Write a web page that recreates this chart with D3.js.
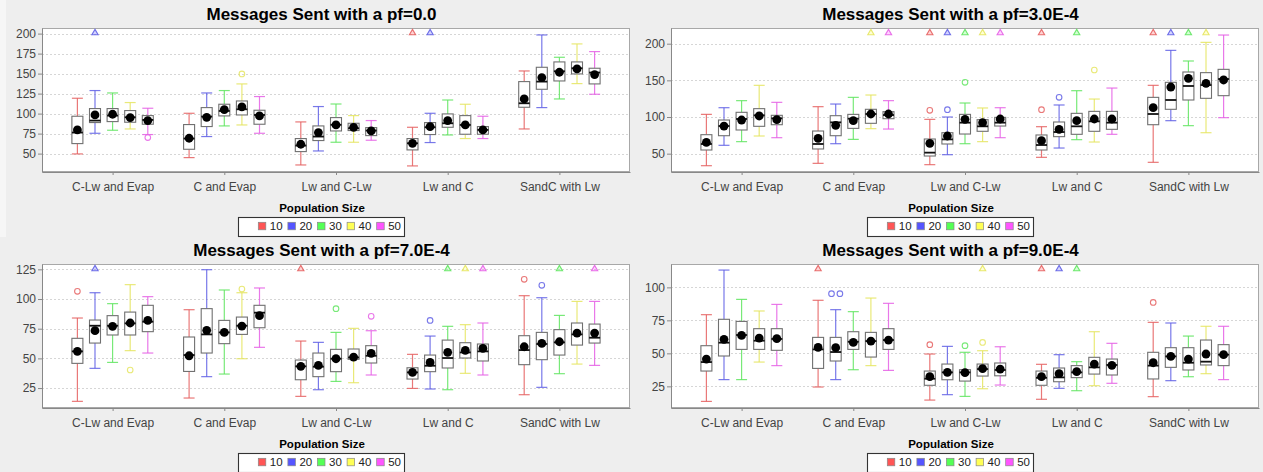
<!DOCTYPE html>
<html>
<head>
<meta charset="utf-8">
<script src="https://cdn.jsdelivr.net/npm/d3@7"></script>
<style>
  html, body { margin: 0; padding: 0; background: #eeeeee; }
  svg { display: block; font-family: "Liberation Sans", Arial, Helvetica, sans-serif; }
</style>
</head>
<body>
<svg id="chart" width="1263" height="472"></svg>
<script>
// ---------- data ----------
const categories = ["C-Lw and Evap", "C and Evap", "Lw and C-Lw", "Lw and C", "SandC with Lw"];
const seriesNames = ["10", "20", "30", "40", "50"];
const seriesColors = ["#ff5555", "#5555ff", "#55ff55", "#ffff55", "#ff55ff"];
const legendTitle = "Population Size";
const panelTitles = [
  "Messages Sent with a pf=0.0",
  "Messages Sent with a pf=3.0E-4",
  "Messages Sent with a pf=7.0E-4",
  "Messages Sent with a pf=9.0E-4"
];
const yDomains = [[27, 207], [25, 221.4], [8.2, 129.5], [8.6, 117.7]];
const yTicks = [
  [50, 75, 100, 125, 150, 175, 200],
  [50, 100, 150, 200],
  [25, 50, 75, 100, 125],
  [25, 50, 75, 100]
];

// box statistics per category, one row per population size:
// [low whisker, Q1, median, Q3, high whisker, mean]
const boxesPf0 = [
  [[49.6, 62.5, 76.3, 96.7, 119.2, 79.6], [75.4, 88.8, 91.3, 106.3, 128.8, 98.3], [79.2, 90, 97.5, 106.3, 125.8, 99.2], [80.8, 89.2, 95.4, 103.8, 113.8, 95], [73.8, 86.7, 92.1, 97.5, 106.7, 91.3]],
  [[45, 55.4, 68.8, 86.3, 100.4, 69.2], [71.3, 83.8, 96.3, 107.5, 125.8, 95.4], [84.6, 97.1, 103.3, 111.7, 128.8, 105], [85.8, 98.3, 105.4, 115.8, 137.1, 108.3], [75.4, 86.7, 98.3, 104.2, 121.3, 97.1]],
  [[35.8, 52.5, 60, 68.8, 89.6, 61.7], [53.3, 66.3, 71.3, 84.6, 108.8, 76.3], [64.2, 78.3, 86, 95, 112, 85.8], [64.2, 78.8, 81.7, 87.9, 97.5, 82.9], [66.7, 72.5, 78.8, 82.5, 91.3, 78.3]],
  [[34.6, 54.6, 62.9, 68.8, 82.9, 62.9], [63.8, 73.8, 82.9, 88.8, 100.4, 83.8], [73.3, 82.9, 87.9, 99.6, 117, 91.3], [68.8, 74.2, 85.8, 97.5, 111.7, 85.8], [68.8, 74.2, 79.6, 83.8, 96.7, 79.6]],
  [[80.8, 107.9, 112.9, 140, 153.3, 118.3], [107.5, 130.4, 140, 157.9, 198.3, 145], [118.3, 140.8, 152.9, 164.6, 170.4, 151.7], [137.5, 149.6, 156.7, 164.6, 187.1, 155.8], [124.2, 137.1, 151.3, 156.7, 177.5, 148.8]]
];
const boxesPf3 = [
  [[33.6, 55, 63.2, 75.9, 103.6, 65.5], [61.4, 74.5, 87.7, 95.9, 112.7, 87.7], [66.4, 82.3, 97.3, 106.4, 122.3, 95.9], [74.1, 87.3, 102.3, 111.4, 143.2, 101.4], [71.8, 89.5, 98.2, 102.3, 120, 96.4]],
  [[36.8, 56.4, 63.2, 80.9, 114.1, 70.9], [63.6, 74.5, 92.7, 101.8, 117.7, 88.6], [69.5, 84.5, 97.7, 103.6, 126.8, 95], [84.1, 91.4, 104.1, 110.5, 130, 104.1], [83.6, 97.7, 102.7, 107.3, 122.3, 104.1]],
  [[35, 46.8, 51.4, 70, 96.8, 64.1], [48.6, 63.2, 69.5, 78.6, 100, 74.1], [63.6, 76.8, 92.3, 103.6, 119.1, 96.8], [66.4, 80.5, 87.3, 96.4, 112.3, 92.3], [71.8, 87.7, 92.3, 99.5, 112.7, 97.3]],
  [[45, 55, 61.8, 75.5, 86.8, 67.7], [57.7, 73.2, 79.5, 93.2, 116.4, 83.2], [69.1, 76.4, 87.3, 105, 135.9, 95], [65.9, 80.5, 94.1, 107.7, 124.5, 97.3], [76.4, 83.2, 92.3, 107.7, 139.5, 97.3]],
  [[38.2, 89.5, 104.1, 126.8, 143.2, 112.7], [95, 110.5, 123.2, 147.3, 190.9, 140.9], [88.2, 123.2, 142.3, 161.4, 176.4, 152.7], [78.6, 125.5, 143.6, 160.5, 201.8, 145.9], [99.1, 129.1, 151.8, 165, 211.8, 150.5]]
];
const boxesPf7 = [
  [[13.8, 45.8, 55.9, 66.9, 84, 55.9], [41.6, 62.9, 77.5, 82.3, 105.3, 73.3], [46.6, 69.7, 77.5, 86, 96.1, 77], [56.5, 69.7, 79.5, 89, 112.1, 79.8], [54.5, 72.5, 80.9, 94.7, 102, 82]],
  [[16.6, 39, 52.8, 68, 91, 52.2], [34.6, 54.5, 70.2, 91.9, 124.7, 73.6], [36.8, 62.4, 71.9, 82, 107.6, 71.9], [49.7, 70.2, 77.5, 84.8, 105.3, 77.2], [59.3, 75.8, 88.5, 94.7, 109.3, 86]],
  [[18, 32, 43.3, 48.6, 64.6, 43.3], [23.6, 34.6, 43, 54.5, 63.5, 44.1], [30.6, 38.8, 49.7, 57.6, 71.9, 49.7], [29.5, 49.2, 50.8, 57.9, 75.3, 51.1], [36, 46.1, 52.2, 60.7, 73.3, 54.2]],
  [[24.7, 32.6, 38.2, 42.1, 53.4, 38.2], [24.2, 38.8, 43.8, 52.8, 68.8, 46.6], [23.6, 41.9, 50.3, 65.4, 77, 55.1], [37.4, 50.3, 55, 63.2, 78.4, 56.7], [36, 47.8, 55.9, 62.1, 79.8, 58.4]],
  [[19.4, 44.7, 57, 69.1, 102.8, 59.8], [25.6, 48.9, 62.1, 71.9, 101.1, 62.6], [37.1, 52.8, 63.5, 74.2, 86.2, 64], [45.2, 61.2, 70.2, 79.8, 98, 71.3], [44.1, 62.9, 67.4, 78.9, 98, 71.3]]
];
const boxesPf9 = [
  [[13.6, 36.6, 43.4, 55.8, 79.3, 45.7], [30.1, 48, 58.1, 75.8, 113.1, 60.6], [30.1, 53, 63.9, 74.2, 90.9, 63.6], [43.4, 53, 59.6, 68.7, 82.1, 61.6], [40.7, 52.3, 60.9, 68.7, 87.1, 61.1]],
  [[24.5, 38.6, 53, 62.1, 90.2, 54.5], [30.1, 44.2, 51, 62.1, 83.1, 54.3], [37.6, 53, 58.8, 66.4, 81.6, 58.3], [40.7, 47.2, 59.3, 65.9, 91.9, 59.3], [37.1, 53, 60.1, 68.7, 87.9, 60.1]],
  [[14.6, 25.8, 30.8, 36.6, 49.5, 32.3], [18.7, 30, 35.6, 41.9, 55.3, 35.6], [17.4, 29, 35.6, 37.6, 50.8, 35.4], [23.2, 32.8, 38.1, 41.9, 52, 38.4], [26, 33, 37.4, 42.7, 55, 38.1]],
  [[15.2, 25.8, 31.5, 36.6, 41.7, 32.3], [23.5, 28.5, 31.8, 38.9, 49, 34.6], [21.7, 31.6, 35.6, 40.7, 43.7, 36.1], [25.5, 34.3, 39.4, 47, 66.4, 41.9], [27.3, 33.6, 41.2, 45.7, 57.6, 40.9]],
  [[17.2, 30.6, 40.7, 50.8, 73.5, 42.9], [29.3, 39.4, 47.7, 54.3, 73, 47.7], [32.3, 37.4, 42.9, 54.3, 63.1, 45.7], [34.6, 41.2, 43.7, 60.1, 70.5, 49.5], [30.1, 40.7, 49, 56.6, 70.5, 49]]
];

// outliers: [category index, series index, value]
const outliersPf0 = [[0, 4, 70], [1, 3, 149.6]];
const outliersPf3 = [[2, 0, 109.1], [2, 1, 110], [2, 2, 147.3], [3, 0, 110], [3, 1, 126.8], [3, 3, 164.1]];
const outliersPf7 = [[0, 0, 106.5], [0, 3, 40.2], [1, 3, 108.4], [2, 2, 91.9], [2, 4, 85.4], [3, 1, 82], [4, 0, 116.6], [4, 1, 111.5]];
const outliersPf9 = [[1, 1, 95.2], [1, 1, 95.2], [2, 0, 56.6], [2, 2, 55.8], [2, 3, 58.3], [4, 0, 88.6]];

// far-out values above the axis range: [category index, series index]
const farOutPf0 = [[0, 1], [3, 0], [3, 1]];
const farOutPf3 = [[1, 3], [1, 4], [2, 0], [2, 1], [2, 2], [2, 3], [2, 4], [3, 0], [3, 2], [4, 0], [4, 1], [4, 2], [4, 3]];
const farOutPf7 = [[0, 1], [2, 0], [3, 2], [3, 3], [3, 4], [4, 2], [4, 4]];
const farOutPf9 = [[1, 0], [2, 3], [3, 0], [3, 1], [3, 2]];

const panelBoxes = [boxesPf0, boxesPf3, boxesPf7, boxesPf9];
const panelOutliers = [outliersPf0, outliersPf3, outliersPf7, outliersPf9];
const panelFarOut = [farOutPf0, farOutPf3, farOutPf7, farOutPf9];

// ---------- layout ----------
const W = 1263, H = 472;
const panelOrigins = [[0, 0], [629, 0], [0, 236], [629, 236]];
const plotL = 42, plotR = 630, plotT = 28, plotB = 172;
const panelCenter = 321.5;

const svg = d3.select("#chart");
svg.append("rect").attr("width", W).attr("height", H).attr("fill", "#eeeeee");
svg.append("rect").attr("x", 0).attr("y", 0).attr("width", 6).attr("height", 237).attr("fill", "#f6f6f6");

const colorScale = d3.scaleOrdinal().domain(seriesNames).range(seriesColors);
// whiskers and outlier marks use a slightly softened tone of the series colour
const softColor = s => d3.interpolateRgb(colorScale(s), "#888888")(0.22);

panelTitles.forEach((title, pi) => {
  const [ox, oy] = panelOrigins[pi];
  const g = svg.append("g").attr("transform", `translate(${ox},${oy})`);

  const x = d3.scalePoint().domain(categories).range([plotL, plotR]).padding(0.632);
  const xs = d3.scaleBand().domain(seriesNames).range([-44, 44]).paddingInner(0.375).paddingOuter(0.1875);
  const y = d3.scaleLinear().domain(yDomains[pi]).range([plotB, plotT]);
  const bw = xs.bandwidth();

  // title
  g.append("text")
    .attr("x", panelCenter).attr("y", 20)
    .attr("text-anchor", "middle")
    .attr("font-size", 17).attr("font-weight", "bold").attr("fill", "#000")
    .text(title);

  // plot background
  g.append("rect")
    .attr("x", plotL).attr("y", plotT)
    .attr("width", plotR - plotL).attr("height", plotB - plotT)
    .attr("fill", "#ffffff");

  // horizontal gridlines
  g.append("g").selectAll("line").data(yTicks[pi]).join("line")
    .attr("x1", plotL).attr("x2", plotR)
    .attr("y1", d => Math.round(y(d)) + 0.5).attr("y2", d => Math.round(y(d)) + 0.5)
    .attr("stroke", "#d6d6d6").attr("stroke-width", 1).attr("stroke-dasharray", "2,2");

  // plot outline
  g.append("rect")
    .attr("x", plotL + 0.5).attr("y", plotT + 0.5)
    .attr("width", plotR - plotL - 1).attr("height", plotB - plotT - 1)
    .attr("fill", "none").attr("stroke", "#a8a8a8");

  // y axis
  const yAxis = g.append("g").attr("transform", `translate(${plotL},0)`)
    .call(d3.axisLeft(y).tickValues(yTicks[pi]).tickSize(4).tickSizeOuter(0).tickPadding(2));
  yAxis.select(".domain").attr("stroke", "#888");
  yAxis.selectAll(".tick line").attr("stroke", "#888");
  yAxis.selectAll(".tick text").attr("fill", "#444").attr("font-size", 12)
    .attr("font-family", "Liberation Sans, Arial, sans-serif");

  // x axis
  const xAxis = g.append("g").attr("transform", `translate(0,${plotB})`)
    .call(d3.axisBottom(x).tickSize(3).tickSizeOuter(0).tickPadding(7));
  xAxis.select(".domain").attr("stroke", "#888");
  xAxis.selectAll(".tick line").attr("stroke", "#888");
  xAxis.selectAll(".tick text").attr("fill", "#444").attr("font-size", 12)
    .attr("font-family", "Liberation Sans, Arial, sans-serif");

  // boxes
  const boxData = [];
  panelBoxes[pi].forEach((row, ci) => {
    row.forEach((st, si) => {
      boxData.push({
        cat: categories[ci], ser: seriesNames[si],
        low: st[0], q1: st[1], med: st[2], q3: st[3], high: st[4], mean: st[5]
      });
    });
  });

  const boxG = g.append("g").selectAll("g").data(boxData).join("g")
    .attr("transform", d => `translate(${x(d.cat) + xs(d.ser)},0)`);

  const whiskerStyle = sel => sel
    .attr("stroke", d => softColor(d.ser))
    .attr("stroke-width", 1.2)
    .attr("stroke-opacity", 0.85);

  // upper whisker and cap
  boxG.append("line")
    .attr("x1", bw / 2).attr("x2", bw / 2)
    .attr("y1", d => y(d.q3)).attr("y2", d => y(d.high))
    .call(whiskerStyle);
  boxG.append("line")
    .attr("x1", 0).attr("x2", bw)
    .attr("y1", d => y(d.high)).attr("y2", d => y(d.high))
    .call(whiskerStyle);
  // lower whisker and cap
  boxG.append("line")
    .attr("x1", bw / 2).attr("x2", bw / 2)
    .attr("y1", d => y(d.q1)).attr("y2", d => y(d.low))
    .call(whiskerStyle);
  boxG.append("line")
    .attr("x1", 0).attr("x2", bw)
    .attr("y1", d => y(d.low)).attr("y2", d => y(d.low))
    .call(whiskerStyle);

  // interquartile box
  boxG.append("rect")
    .attr("x", 0).attr("width", bw)
    .attr("y", d => y(d.q3)).attr("height", d => y(d.q1) - y(d.q3))
    .attr("fill", "#ffffff").attr("stroke", "#707070").attr("stroke-width", 1.1);

  // median
  boxG.append("line")
    .attr("x1", 0).attr("x2", bw)
    .attr("y1", d => y(d.med)).attr("y2", d => y(d.med))
    .attr("stroke", "#111").attr("stroke-width", 1.8);

  // mean
  boxG.append("circle")
    .attr("cx", bw / 2).attr("cy", d => y(d.mean))
    .attr("r", 4.4).attr("fill", "#000");

  // outliers (coincident values placed side by side)
  const groups = d3.group(panelOutliers[pi], d => `${d[0]}|${d[1]}|${d[2]}`);
  const outData = [];
  groups.forEach(list => {
    list.forEach((d, k) => outData.push({ ci: d[0], si: d[1], v: d[2], off: (k - (list.length - 1) / 2) * 8.4 }));
  });
  g.append("g").selectAll("circle").data(outData).join("circle")
    .attr("cx", d => x(categories[d.ci]) + xs(seriesNames[d.si]) + bw / 2 + d.off)
    .attr("cy", d => y(d.v))
    .attr("r", 2.8)
    .attr("fill", "none")
    .attr("stroke", d => softColor(seriesNames[d.si]))
    .attr("stroke-opacity", 0.85)
    .attr("stroke-width", 1.1);

  // far-out markers at the top of the plot
  const tri = d3.symbol().type(d3.symbolTriangle).size(17);
  g.append("g").selectAll("path").data(panelFarOut[pi]).join("path")
    .attr("d", tri)
    .attr("transform", d => `translate(${x(categories[d[0]]) + xs(seriesNames[d[1]]) + bw / 2},${plotT + 5})`)
    .attr("fill", d => colorScale(seriesNames[d[1]]))
    .attr("fill-opacity", 0.25)
    .attr("stroke", d => softColor(seriesNames[d[1]]))
    .attr("stroke-opacity", 0.9)
    .attr("stroke-width", 1.1);

  // legend
  g.append("text")
    .attr("x", panelCenter + 0.5).attr("y", 211.5)
    .attr("text-anchor", "middle")
    .attr("font-size", 11.5).attr("font-weight", "bold").attr("fill", "#000")
    .text(legendTitle);

  const legX = 238, legY = 217, legW = 166, legH = 19;
  g.append("rect")
    .attr("x", legX + 0.5).attr("y", legY + 0.5)
    .attr("width", legW).attr("height", legH)
    .attr("fill", "#ffffff").attr("stroke", "#333").attr("stroke-width", 1.1);

  const item = g.append("g").selectAll("g").data(seriesNames).join("g")
    .attr("transform", (d, k) => `translate(${legX + 20.3 + k * 29.6},${legY + 5.3})`);
  item.append("rect")
    .attr("width", 7.5).attr("height", 7.5)
    .attr("fill", d => colorScale(d))
    .attr("stroke", "#888").attr("stroke-width", 0.7);
  item.append("text")
    .attr("x", 11.5).attr("y", 8)
    .attr("font-size", 11.5).attr("fill", "#222")
    .text(d => d);
});
</script>
</body>
</html>
